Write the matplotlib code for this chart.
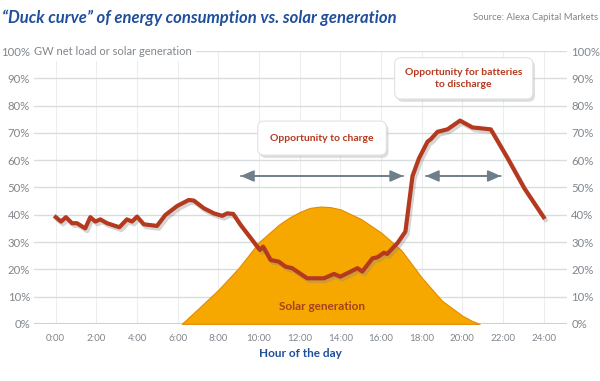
import matplotlib.pyplot as plt
import matplotlib.patheffects as pe

# net load (share of peak)
load_hours = [0, 0.26, 0.5, 0.8, 1.04, 1.45, 1.7, 1.95, 2.19, 2.52, 3.13, 3.5, 3.75, 4.0,
              4.33, 4.98, 5.39, 5.97, 6.54, 6.79, 7.28, 7.78, 8.19, 8.43, 8.73, 9.09,
              10.04, 10.2, 10.57, 10.97, 11.3, 11.63, 12.37, 13.19, 13.69, 14.0, 14.84,
              15.08, 15.58, 15.82, 16.15, 16.3, 16.81, 17.2, 17.55, 17.87, 18.29, 18.45,
              18.78, 19.27, 19.89, 20.5, 21.4, 22.23, 23.05, 24.0]
load_pct = [39.1, 37.5, 39.1, 36.9, 36.9, 35.0, 39.1, 37.5, 38.3, 36.9, 35.4, 38.3, 37.5, 39.3,
            36.5, 35.9, 39.9, 43.2, 45.4, 45.2, 42.4, 40.5, 39.6, 40.5, 40.3, 36.3,
            27.1, 28.3, 23.4, 22.8, 21.0, 20.4, 16.7, 16.7, 18.3, 17.3, 20.4,
            19.2, 24.0, 24.4, 26.1, 25.6, 29.6, 33.8, 54.2, 60.7, 66.8, 67.7,
            70.4, 71.3, 74.5, 72.0, 71.3, 60.7, 49.7, 39.1]

solar_hours = [6.2, 7, 8, 9, 10, 11, 11.5, 12, 12.5, 13, 13.5, 14, 15, 16, 17, 18, 19, 20, 20.5, 20.85]
solar_pct = [0, 5.5, 12.5, 20.5, 30, 36.5, 39, 41, 42.5, 43, 42.8, 42, 38.5, 33.5, 27, 17, 8.5, 3, 1, 0]

tick_hours = list(range(0, 25, 2))
tick_labels = [f"{h}:00" for h in tick_hours]
pct_ticks = list(range(0, 101, 10))

font = "Lato"
grey = "#80868c"
red = "#b5391f"
blue = "#1f4f9c"

fig = plt.figure(figsize=(6, 3.81), dpi=100)
ax = fig.add_axes([0.057, 0.15, 0.888, 0.716])
ax.set_xlim(-1.06, 25.15)
ax.set_ylim(0, 100)

for h in tick_hours:
    ax.axvline(h, color="#ebedef", lw=0.8, zorder=0)
for p in pct_ticks[1:]:
    ax.axhline(p, color="#d9dcdf", lw=1.0, zorder=0)
ax.axhline(0, color="#cfd2d5", lw=1.5, zorder=0)

ax.fill_between(solar_hours, solar_pct, color="#f6a800", edgecolor="#e58a00", lw=0.8, zorder=2)
ax.text(13.1, 6.3, "Solar generation", color="#a8401c", fontsize=8.5, fontweight="bold",
        family=font, ha="center", va="center", zorder=3)

ax.plot(load_hours, load_pct, color=red, lw=3, zorder=4, solid_joinstyle="round",
        path_effects=[pe.SimpleLineShadow(offset=(1.5, -2), shadow_color="#888888", alpha=0.35),
                      pe.Normal()])

arrow_kw = dict(arrowstyle="-|>,head_length=0.8,head_width=0.35", color="#6e7f8c", lw=1.2,
                shrinkA=0, shrinkB=0)
for a, b in [(9.1, 17.1), (18.2, 21.9)]:
    ax.annotate("", xy=(a, 54.2), xytext=(b, 54.2), arrowprops=arrow_kw, zorder=5)
    ax.annotate("", xy=(b, 54.2), xytext=(a, 54.2), arrowprops=arrow_kw, zorder=5)

def callout(x, y, s, pad):
    box = dict(boxstyle=f"round,pad={pad},rounding_size=0.6", fc="white", ec="#dfe2e5", lw=0.8)
    t = ax.text(x, y, s, color=red, fontsize=7.5, fontweight="bold", family=font,
                ha="center", va="center", linespacing=1.35, bbox=box, zorder=6)
    t.get_bbox_patch().set_path_effects([pe.withSimplePatchShadow(offset=(1.5, -2),
                                                                  shadow_rgbFace="#bbbbbb", alpha=0.5)])

callout(13.1, 68.1, "Opportunity to charge", 1.2)
callout(20.07, 90.0, "Opportunity for batteries\nto discharge", 1.0)

for s in ax.spines.values():
    s.set_visible(False)
ax.tick_params(length=0)
ax.set_xticks(tick_hours, tick_labels, fontsize=7, color=grey, family=font)
ax.set_yticks(pct_ticks, [f"{p}%" for p in pct_ticks], fontsize=8.2, color=grey, family=font)
ax.tick_params(axis="x", pad=7)
ax.tick_params(axis="y", pad=3, labelright=True)
ax.set_xlabel("Hour of the day", fontsize=8.5, color=blue, family=font, fontweight="bold", labelpad=4)

ax.text(-1.06, 100, "GW net load or solar generation", fontsize=8, color=grey, family=font,
        ha="left", va="center", zorder=3,
        bbox=dict(fc="white", ec="none", boxstyle="square,pad=0.4"))

fig.text(0.004, 0.953, "\u201cDuck curve\u201d of energy consumption vs. solar generation",
         fontsize=12, color=blue, fontweight="bold", style="italic", family=font,
         ha="left", va="center")
fig.text(0.997, 0.953, "Source: Alexa Capital Markets", fontsize=6.8, color=grey, family=font,
         ha="right", va="center")

fig.savefig("out.png", dpi=100)
